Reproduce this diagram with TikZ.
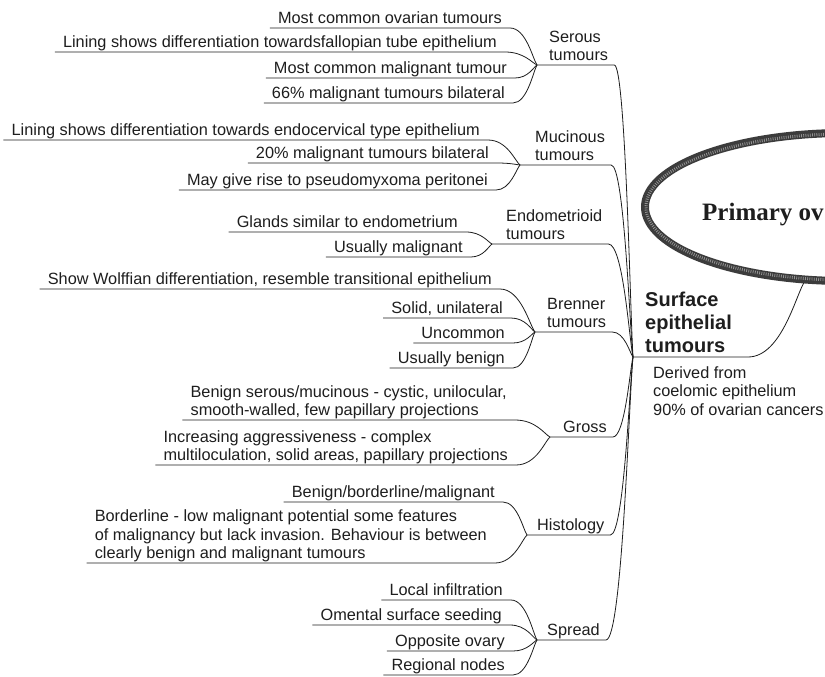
\documentclass[tikz,border=0pt]{standalone}
\usepackage{fontspec}
\setmainfont{Liberation Sans}
\newfontfamily\titlefont{Liberation Serif}
\usetikzlibrary{calc}
\definecolor{ink}{HTML}{1E1E1E}
\definecolor{ring}{HTML}{3C3C3C}
\newcommand\leaffont{\fontsize{16.3}{18.5}\selectfont}
\newcommand\ml[1]{\begin{tabular}[b]{@{}l@{}}#1\end{tabular}}
\tikzset{
  leaf/.style={font=\leaffont, text=ink, inner xsep=8pt, inner ysep=4pt, text depth=0pt, anchor=south east},
  cat/.style={font=\leaffont, text=ink, inner xsep=6pt, inner ysep=4pt, text depth=0pt, anchor=south west},
  conn/.style={draw=ink, line width=0.8pt},
  branch/.style={to path={.. controls ($(\tikztostart)!0.6!(\tikztostart -| \tikztotarget)$) and ($(\tikztostart)!0.85!(\tikztotarget)$) .. (\tikztotarget)}},
}
\begin{document}
\begin{tikzpicture}[x=1pt,y=-1pt]
\useasboundingbox (0,0) rectangle (825,677);
\fill[white] (0,0) rectangle (825,677);

% hub and junctions
\coordinate (hub) at (633,357);
\coordinate (J1) at (537,65);
\coordinate (J2) at (520,165);
\coordinate (J3) at (492,244);
\coordinate (J4) at (535,332);
\coordinate (J5) at (550,437);
\coordinate (J6) at (527,535);
\coordinate (J7) at (537,640);

% Serous
\node[leaf] (a1) at (510,28) {Most common ovarian tumours};
\node[leaf] (a2) at (505,52) {Lining shows differentiation towardsfallopian tube epithelium};
\node[leaf] (a3) at (515,78) {Most common malignant tumour};
\node[leaf] (a4) at (513,103) {66\% malignant tumours bilateral};
\node[cat] (L1) at (543,65) {\ml{Serous\\tumours}};

% Mucinous
\node[leaf] (b1) at (488,140) {Lining shows differentiation towards endocervical type epithelium};
\node[leaf] (b2) at (497,163) {20\% malignant tumours bilateral};
\node[leaf] (b3) at (496,190) {May give rise to pseudomyxoma peritonei};
\node[cat] (L2) at (529,165) {\ml{Mucinous\\tumours}};

% Endometrioid
\node[leaf] (c1) at (466,232) {Glands similar to endometrium};
\node[leaf] (c2) at (471,257) {Usually malignant};
\node[cat] (L3) at (500,244) {\ml{Endometrioid\\tumours}};

% Brenner
\node[leaf] (d1) at (500,289) {Show Wolffian differentiation, resemble transitional epithelium};
\node[leaf] (d2) at (511,318) {Solid, unilateral};
\node[leaf] (d3) at (513,343) {Uncommon};
\node[leaf] (d4) at (513,368) {Usually benign};
\node[cat] (L4) at (541,332) {\ml{Brenner\\tumours}};

% Gross
\node[leaf] (e1) at (515,420) {\ml{Benign serous/mucinous - cystic, unilocular,\\smooth-walled, few papillary projections}};
\node[leaf] (e2) at (516,465) {\ml{Increasing aggressiveness - complex\\multiloculation, solid areas, papillary projections}};
\node[cat] (L5) at (557,437) {Gross};

% Histology
\node[leaf] (f1) at (503,502) {Benign/borderline/malignant};
\node[leaf] (f2) at (495,563) {\ml{Borderline - low malignant potential some features\\of malignancy but lack invasion. Behaviour is between\\clearly benign and malignant tumours}};
\node[cat] (L6) at (531,535) {Histology};

% Spread
\node[leaf] (g1) at (511,600) {Local infiltration};
\node[leaf] (g2) at (510,625) {Omental surface seeding};
\node[leaf] (g3) at (513,651) {Opposite ovary};
\node[leaf] (g4) at (513,675) {Regional nodes};
\node[cat] (L7) at (541,640) {Spread};

% leaf connectors
\foreach \n in {a1,a2,a3,a4} \draw[conn] (\n.south west) -- (\n.south east) to[branch] (J1);
\foreach \n in {b1,b2,b3} \draw[conn] (\n.south west) -- (\n.south east) to[branch] (J2);
\foreach \n in {c1,c2} \draw[conn] (\n.south west) -- (\n.south east) to[branch] (J3);
\foreach \n in {d1,d2,d3,d4} \draw[conn] (\n.south west) -- (\n.south east) to[branch] (J4);
\foreach \n in {e1,e2} \draw[conn] (\n.south west) -- (\n.south east) to[branch] (J5);
\foreach \n in {f1,f2} \draw[conn] (\n.south west) -- (\n.south east) to[branch] (J6);
\foreach \n in {g1,g2,g3,g4} \draw[conn] (\n.south west) -- (\n.south east) to[branch] (J7);

% category connectors to hub
\draw[conn] (J1) -- (L1.south east) to[branch] (hub);
\draw[conn] (J2) -- (L2.south east) to[branch] (hub);
\draw[conn] (J3) -- (L3.south east) to[branch] (hub);
\draw[conn] (J4) -- (L4.south east) to[branch] (hub);
\draw[conn] (J5) -- (L5.south east) to[branch] (hub);
\draw[conn] (J6) -- (L6.south east) to[branch] (hub);
\draw[conn] (J7) -- (L7.south east) to[branch] (hub);

% central branch
\node[anchor=south west, inner xsep=8pt, inner ysep=4pt, text depth=0pt, text=ink,
      font=\fontsize{20}{23}\selectfont\bfseries] (sf) at (637,357) {\ml{Surface\\epithelial\\tumours}};
\node[anchor=base west, inner sep=0pt, text=ink, font=\leaffont] (der) at (653,415)
      {\ml{Derived from\\coelomic epithelium\\90\% of ovarian cancers}};
\coordinate (sfend) at (748,357);
\coordinate (ell) at (805,281);
\draw[conn] (hub) -- (sf.south west) -- (sfend) to[branch] (ell);

% main ellipse
\begin{scope}
  \clip (0,0) rectangle (825,677);
  \draw[ring, line width=8pt] (845,207) ellipse [x radius=200pt, y radius=74pt];
  \draw[white, line width=3pt, dash pattern=on 0.8pt off 1.4pt, opacity=0.45] (845,207) ellipse [x radius=199pt, y radius=73pt];
\end{scope}
\node[anchor=base west, inner sep=0pt, text=ink, font=\titlefont\bfseries\fontsize{25}{28}\selectfont] (title) at (702,220) {Primary ov};
\end{tikzpicture}
\end{document}
